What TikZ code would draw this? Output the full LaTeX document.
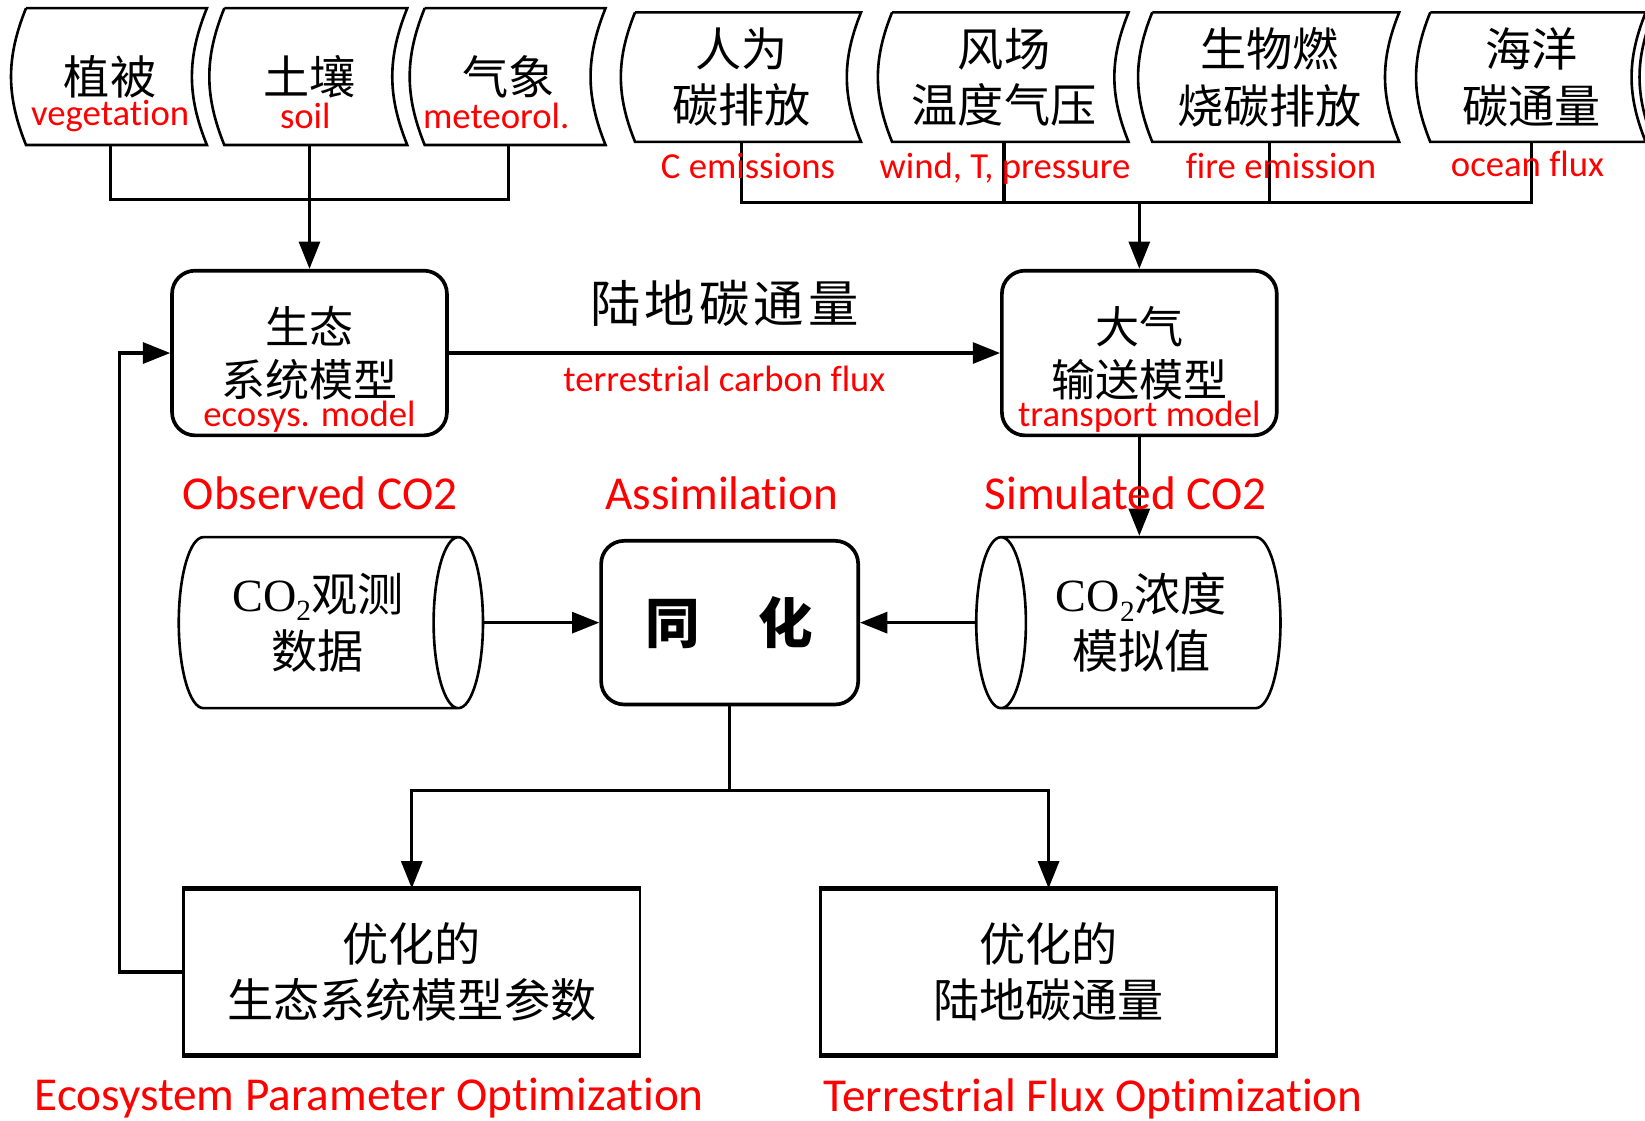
\documentclass[tikz,border=0pt]{standalone}
\usepackage{fontspec}
\setmainfont{Carlito}[Ligatures=NoCommon]
\newfontfamily\cjk{Noto Sans CJK SC}
\newfontfamily\serif{Liberation Serif}
\usetikzlibrary{arrows.meta,positioning,calc,shapes.geometric}
\definecolor{labred}{RGB}{255,0,0}

\tikzset{
  cn/.style={font=\cjk\fontsize{44}{54}\selectfont, align=center, inner sep=0pt},
  redsm/.style={font=\fontsize{35}{40}\selectfont, text=labred, inner sep=0pt},
  redbig/.style={font=\fontsize{45}{50}\selectfont, text=labred, inner sep=0pt},
  storeline/.style={line width=2.5pt},
  model/.style={cn, draw, line width=3.5pt, rounded corners=22pt, minimum width=262pt, minimum height=157pt},
  datab/.style={cn, draw, cylinder, line width=2.5pt, aspect=0.5, minimum width=163pt, minimum height=290pt},
  optbox/.style={cn, draw, line width=2.5pt, minimum width=435pt, minimum height=157pt},
  link/.style={line width=3pt}
}

% input data box: name, x, y, width, height, text
\newcommand\store[6]{%
  \node[cn, minimum width=#4pt, minimum height=#5pt] (#1) at (#2,#3) {#6};
  \draw[storeline] ([xshift=6pt]#1.north west) -- ([xshift=6pt]#1.north east)
    to[bend right=22] ([xshift=6pt]#1.south east) -- ([xshift=6pt]#1.south west)
    to[bend left=22] ([xshift=6pt]#1.north west);
}
\newcommand\cotwo{{\serif CO\raisebox{-9pt}{\fontsize{28}{28}\selectfont 2}}}

\begin{document}
\begin{tikzpicture}[x=1pt,y=-1pt,>={Triangle[length=26pt,width=20pt]}]
\fill[white] (0,0) rectangle (1568,1068);
\clip (0,0) rectangle (1568,1068);

% inputs of the ecosystem model
\store{veg}{105}{73}{172}{130}{植被}
\store{soil}{295}{73}{174}{130}{土壤}
\store{met}{485}{73}{172}{130}{气象}
% inputs of the transport model
\store{emis}{707}{73.5}{215}{123}{人为\\碳排放}
\store{wind}{957}{73.5}{225}{123}{风场\\温度气压}
\store{fire}{1210}{73.5}{235}{123}{生物燃\\烧碳排放}
\store{ocean}{1460}{73.5}{205}{123}{海洋\\碳通量}
\store{more}{1673}{73.5}{205}{123}{}

% models
\node[model, font=\cjk\fontsize{42}{50}\selectfont] (eco) at (295,336.5) {生态\\系统模型};
\node[model, font=\cjk\fontsize{42}{50}\selectfont] (atm) at (1086,336.5) {大气\\输送模型};

% data and assimilation
\node[datab] (obs) at (303,593.5) {\cotwo 观测\\数据};
\node[datab, shape border rotate=180] (sim) at (1088,593.5) {\cotwo 浓度\\模拟值};
\node[model, minimum width=245pt, minimum height=156pt,
  font=\cjk\bfseries\fontsize{52}{60}\selectfont] (assim) at (695.5,593.5) {同\hspace{56pt}化};

% optimised results
\node[optbox] (optp) at (392.5,926.5) {优化的\\生态系统模型参数};
\node[optbox] (optf) at (999.5,926.5) {优化的\\陆地碳通量};
\draw[line width=5pt] (optp.north west) -- (optp.north east);
\draw[line width=5pt] (optp.south west) -- (optp.south east);
\draw[line width=5pt] (optf.north west) -- (optf.north east);
\draw[line width=5pt] (optf.south west) -- (optf.south east);

% connectors
\coordinate (lj) at ($(soil.south)+(0,52)$);
\draw[link] (veg.south) |- (lj) -| (met.south);
\draw[link] (soil) -- (lj);
\draw[link,->] (lj) -- (eco);

\coordinate (rj) at ($(atm.north |- emis.south)+(0,58)$);
\draw[link] (emis.south) |- (rj) -| (ocean.south);
\draw[link] (wind.south) -- (wind.south |- rj);
\draw[link] (fire.south) -- (fire.south |- rj);
\draw[link,->] (rj) -- (atm);

\draw[link,->] (eco) -- node[cn, font=\cjk\fontsize{48}{54}\selectfont, yshift=47pt] (flux)
  {陆\hspace{4pt}地\hspace{4pt}碳\hspace{4pt}通\hspace{4pt}量}
  node[redsm, yshift=-25pt] (fluxlab) {terrestrial carbon flux} (atm);
\draw[link,->] (atm.south) -- (atm.south |- sim.north);
\draw[link,->] (obs) -- (assim);
\draw[link,->] (sim) -- (assim);

\coordinate (bj) at ($(assim.south)+(0,80)$);
\draw[link] (assim) -- (bj);
\draw[link,->] (bj) -| (optp);
\draw[link,->] (bj) -| (optf);
\draw[link,->] (optp.west) -- ++(-60,0) |- (eco.west);

% english labels
\node[redsm] (veglab) at ($(veg.south)+(0,-28)$) {vegetation};
\node[redsm] (soillab) at ($(soil.south)+(-4,-28)$) {soil};
\node[redsm] (metlab) at ($(met.south)+(-12,-28)$) {meteorol.};
\node[redsm] (emislab) at (713,158) {C emissions};
\node[redsm] (windlab) at (958,161) {wind, T, pressure};
\node[redsm] (firelab) at (1221,158) {fire emission};
\node[redsm] (oceanlab) at (1456,156) {ocean flux};
\node[redsm] (ecolab) at ($(eco.south)+(0,-20)$) {ecosys. model};
\node[redsm] (atmlab) at ($(atm.south)+(0,-20)$) {transport model};
\node[redbig] (obslab) at (305,470) {Observed CO2};
\node[redbig] (assimlab) at (688,470) {Assimilation};
\node[redbig] (simlab) at (1073,470) {Simulated CO2};
\node[redbig] (parlab) at (352,1047) {Ecosystem Parameter Optimization};
\node[redbig] (fluxopt) at (1042,1047) {Terrestrial Flux Optimization};
\end{tikzpicture}
\end{document}
